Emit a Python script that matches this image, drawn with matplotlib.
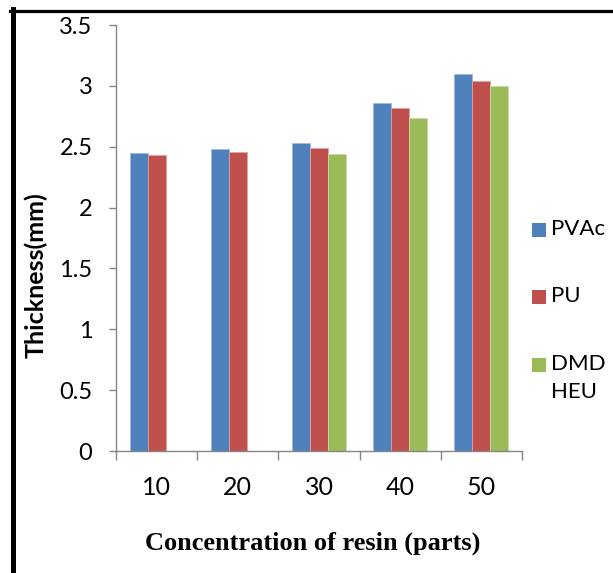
import numpy as np
import matplotlib.pyplot as plt
from matplotlib.lines import Line2D
from matplotlib.patches import Rectangle

# data
concentrations = ["10", "20", "30", "40", "50"]
series_names = ["PVAc", "PU", "DMD\nHEU"]
pvac = [2.45, 2.48, 2.53, 2.86, 3.10]
pu = [2.43, 2.46, 2.49, 2.82, 3.04]
dmdheu = [np.nan, np.nan, 2.44, 2.74, 3.00]

colors = ["#4F81BD", "#C0504D", "#9BBB59"]
edges = ["#9DB8DC", "#DFA3A1", "#C9DCA7"]
GRAY = "#868686"

plt.rcParams['font.family'] = ['Lato', 'DejaVu Sans']

fig = plt.figure(figsize=(6.13, 5.73), dpi=100)
ax = fig.add_axes([116 / 613, 1 - 451 / 573, 406 / 613, 426 / 573])

x = np.arange(len(concentrations))
w = 0.221
for i, vals in enumerate([pvac, pu, dmdheu]):
    ax.bar(x + (i - 1) * w, vals, width=w, color=colors[i],
           edgecolor=edges[i], linewidth=0.6, zorder=2)

ax.set_xlim(-0.5, len(concentrations) - 0.5)
ax.set_ylim(0, 3.5)
ax.set_yticks(np.arange(0, 3.51, 0.5))
ax.set_yticklabels(["0", "0.5", "1", "1.5", "2", "2.5", "3", "3.5"])
ax.set_xticks(x)
ax.set_xticklabels(concentrations)
ax.set_xticks(np.arange(-0.5, len(concentrations)), minor=True)

for s in ["top", "right"]:
    ax.spines[s].set_visible(False)
for s in ["left", "bottom"]:
    ax.spines[s].set_color(GRAY)
    ax.spines[s].set_linewidth(1.0)

ax.tick_params(axis='y', length=5, color=GRAY, width=1.0, pad=12, labelsize=17)
ax.tick_params(axis='x', which='major', length=0, pad=18, labelsize=18)
ax.tick_params(axis='x', which='minor', length=6.5, color=GRAY, width=1.0)

ax.set_ylabel("Thickness(mm)", fontsize=18, fontweight='bold')
ax.yaxis.set_label_coords(-0.168, 0.412)
ax.set_xlabel("Concentration of resin (parts)", fontsize=19, fontweight='bold',
              family='Liberation Serif')
ax.xaxis.set_label_coords(0.484, -0.19)

# legend drawn on the right, next to the plot
ys = [230, 297, 365]
for name, c, yc in zip(series_names, colors, ys):
    fig.add_artist(Rectangle((532 / 613, 1 - (yc + 7) / 573), 14 / 613, 14 / 573,
                             transform=fig.transFigure, facecolor=c, edgecolor='none'))
    fig.text(551 / 613, 1 - (yc - 11) / 573, name, fontsize=16, va='top', ha='left',
             linespacing=1.5)

# black frame at the left and top
fig.add_artist(Line2D([12.5 / 613, 12.5 / 613], [0, 1 - 9 / 573], color='black',
                      linewidth=3.6, transform=fig.transFigure))
fig.add_artist(Line2D([10 / 613, 1], [1 - 10.5 / 573, 1 - 10.5 / 573], color='black',
                      linewidth=2.3, transform=fig.transFigure))

fig.savefig("out.png", dpi=100)
